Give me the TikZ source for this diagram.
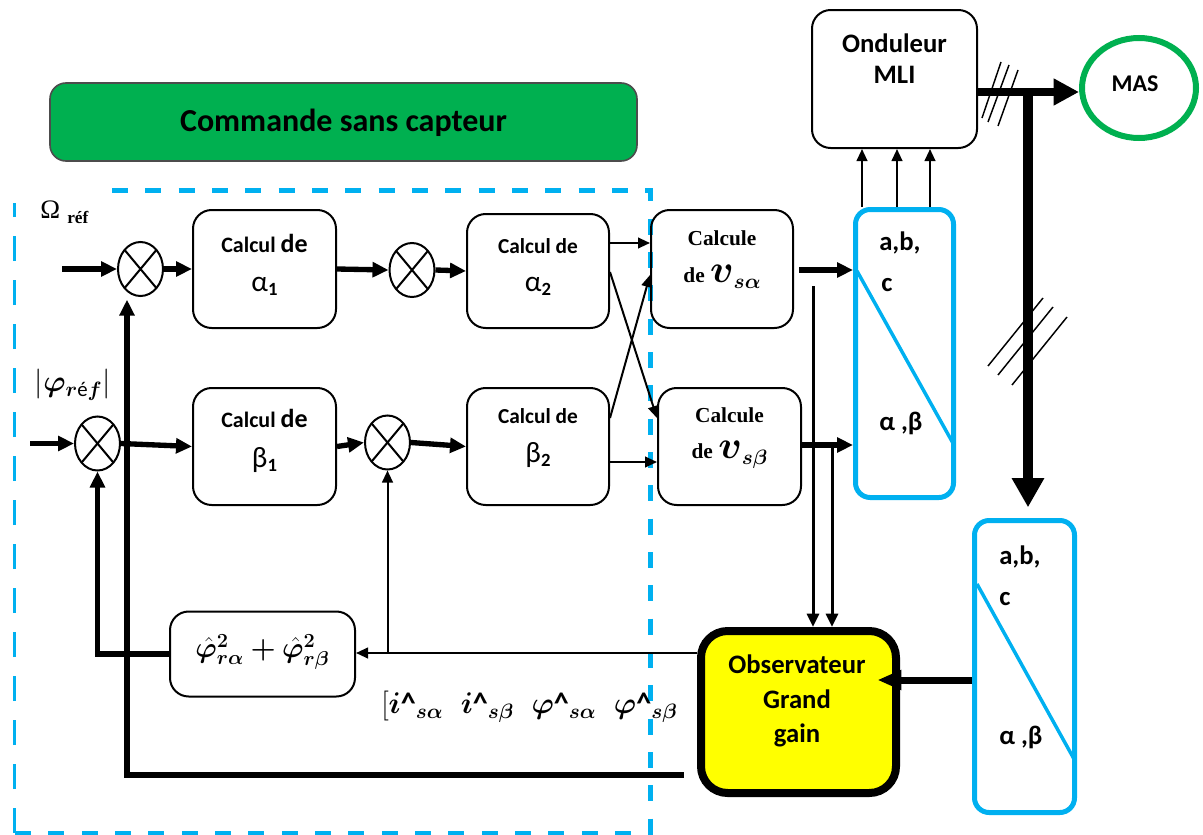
\documentclass[tikz,border=0pt]{standalone}
\usepackage{amsmath}
\usepackage{bm}
\usepackage{graphicx}
\usepackage{fontspec}
\setmainfont{Carlito}
\newfontfamily\tms{Liberation Serif}
\usetikzlibrary{arrows.meta,shapes.geometric}
\definecolor{cyanb}{HTML}{00B0F0}
\definecolor{greenb}{HTML}{00B050}
\definecolor{yelb}{HTML}{FFFF00}
% text helpers
\newcommand\cdbig{{\bfseries\fontsize{16.5}{18}\selectfont Calcul }{\bfseries\fontsize{19.5}{20}\selectfont de}}
\newcommand\cdsmall{{\bfseries\fontsize{16}{18}\selectfont Calcul de}}
\newcommand\grsub[2]{{\fontsize{22}{24}\selectfont #1}\raisebox{-3pt}{\bfseries\fontsize{14}{16}\selectfont #2}}
\newcommand\hatsub[2]{$\bm{#1}$\textbf{\textasciicircum}$_{\bm{#2}}$}
\newcommand\fluxsum{$\bm{\hat{\varphi}}^{\bm{2}}_{\bm{r\alpha}}\bm{+}\bm{\hat{\varphi}}^{\bm{2}}_{\bm{r\beta}}$}
\newcommand\voltlbl[1]{{\tms\bfseries\fontsize{16}{18}\selectfont de }{\fontsize{17.28}{20}\selectfont\scalebox{1.7}{$\bm{v}$}\raisebox{-5pt}{\scalebox{1.3}{$\scriptstyle\bm{s#1}$}}}}
\begin{document}
\begin{tikzpicture}[x=0.75pt,y=-0.75pt,
  box/.style={draw, line width=1.5pt, rounded corners=14pt, inner sep=0pt},
  sumx/.style={ellipse, draw, line width=1.5pt, minimum width=33.75pt, minimum height=40.5pt, inner sep=0pt,
    path picture={\draw[line width=1.5pt]
      (path picture bounding box.north west) -- (path picture bounding box.south east)
      (path picture bounding box.north east) -- (path picture bounding box.south west);}},
  txt/.style={inner sep=0pt, anchor=base},
  txtl/.style={inner sep=0pt, anchor=base west},
  thk/.style={line width=4pt, -{Triangle[length=12pt,width=11pt]}},
  thn/.style={line width=1.5pt, -{Triangle[length=9pt,width=8pt]}},
  abcbox/.style={draw=cyanb, line width=3.75pt, rounded corners=11pt, inner sep=0pt},
  hash/.style={line width=1.1pt},
  abctxt/.style={inner sep=0pt, anchor=base west, font=\bfseries\fontsize{20}{22}\selectfont},
]
\useasboundingbox (0,0) rectangle (1203,835);

% title banner
\node[draw=black!70, fill=greenb, line width=1.2pt, rounded corners=12pt,
      minimum width=440.25pt, minimum height=58.5pt] (title) at (343.5,122) {};
\node[txt, font=\bfseries\fontsize{24}{28}\selectfont] (titletxt) at (343.5,131) {Commande sans capteur};

% sensorless control frame
\draw[cyanb, line width=3.75pt, dash pattern=on 12pt off 13pt] (112,190) -- (650,190) -- (650,833) -- (14,833);
\draw[cyanb, line width=2.25pt, dash pattern=on 18.75pt off 14.25pt] (14,833) -- (14,203);

% summing junctions
\node[sumx] (s1) at (140.5,269) {};
\node[sumx] (s2) at (412,270) {};
\node[sumx] (s3) at (97.5,443.5) {};
\node[sumx] (s4) at (387.5,442.5) {};

% computation blocks
\node[box, minimum width=107.25pt, minimum height=88.5pt] (a1) at (264.5,269) {};
\node[box, minimum width=106.5pt, minimum height=85.5pt] (a2) at (538,271) {};
\node[box, minimum width=106.5pt, minimum height=88.5pt] (va) at (722,269) {};
\node[box, minimum width=107.25pt, minimum height=87.75pt] (b1) at (264.5,446.5) {};
\node[box, minimum width=106.5pt, minimum height=87.75pt] (b2) at (538,446.5) {};
\node[box, minimum width=107.25pt, minimum height=87.75pt] (vb) at (729.5,446.5) {};
\node[box, minimum width=138.75pt, minimum height=63.75pt] (phi) at (262.5,654) {};
\node[box, minimum width=123.75pt, minimum height=103.5pt] (ond) at (894.5,79) {};
\node[draw, fill=yelb, line width=6pt, rounded corners=20pt, inner sep=0pt,
      minimum width=146.25pt, minimum height=121.5pt] (obs) at (798.5,712) {};
\node[ellipse, draw=greenb, line width=4.5pt, minimum width=85.5pt, minimum height=75pt, inner sep=0pt] (mas) at (1139,88) {};

% abc / alpha-beta transforms
\node[abcbox, minimum width=73.5pt, minimum height=216pt] (t1) at (904.5,353.5) {};
\draw[cyanb, line width=2.6pt] (857,271) -- (954,445);
\node[abcbox, minimum width=75pt, minimum height=219pt] (t2) at (1024.5,666.5) {};
\draw[cyanb, line width=2.6pt] (977,584) -- (1074,759);

% block texts
\node[txt] (a1l1) at (264.5,252) {\cdbig};
\node[txt] (a1l2) at (264.5,291) {\grsub{α}{1}};
\node[txt] (a2l1) at (538,253) {\cdsmall};
\node[txt] (a2l2) at (538,291) {\grsub{α}{2}};
\node[txt] (b1l1) at (264.5,427) {\cdbig};
\node[txt] (b1l2) at (264.5,467) {\grsub{β}{1}};
\node[txt] (b2l1) at (538,423) {\cdsmall};
\node[txt] (b2l2) at (538,462) {\grsub{β}{2}};
\node[txt, font=\tms\bfseries\fontsize{16}{18}\selectfont] (val1) at (722,245) {Calcule};
\node[txt] (val2) at (722,282) {\voltlbl{\alpha}};
\node[txt, font=\tms\bfseries\fontsize{16}{18}\selectfont] (vbl1) at (729.5,422) {Calcule};
\node[txt] (vbl2) at (729.5,458) {\voltlbl{\beta}};
\node[inner sep=0pt] (phil) at (262.5,652) {\scalebox{1.25}{\fontsize{17.28}{20}\selectfont\fluxsum}};
\node[txt, font=\bfseries\fontsize{20}{22}\selectfont] (ondl1) at (894.5,52) {Onduleur};
\node[txt, font=\bfseries\fontsize{20}{22}\selectfont] (ondl2) at (894.5,83) {MLI};
\node[txt, font=\bfseries\fontsize{18}{20}\selectfont] (masl) at (1135,91) {MAS};
\node[txt, font=\bfseries\fontsize{20}{22}\selectfont] (obsl1) at (797,673) {Observateur};
\node[txt, font=\bfseries\fontsize{20}{22}\selectfont] (obsl2) at (797,708) {Grand};
\node[txt, font=\bfseries\fontsize{20}{22}\selectfont] (obsl3) at (797,742) {gain};
\node[abctxt] (t1l1) at (879,250) {a,b,};
\node[abctxt] (t1l2) at (881,291) {c};
\node[abctxt] (t1l3) at (879,430) {α ,β};
\node[abctxt] (t2l1) at (999,564) {a,b,};
\node[abctxt] (t2l2) at (999,605) {c};
\node[abctxt] (t2l3) at (999,744) {α ,β};

% reference inputs
\node[txtl, font=\tms\fontsize{20}{22}\selectfont] (omg) at (40,218) {Ω};
\node[txtl, font=\tms\bfseries\fontsize{13}{15}\selectfont] (omgref) at (67,223) {réf};
\node[inner sep=0pt] (phiref) at (73,385) {\scalebox{1.3}{\fontsize{17.28}{20}\selectfont$\left|\bm{\varphi}_{\bm{r}\text{é}\bm{f}}\right|$}};
\node[inner sep=0pt, anchor=west] (estv) at (381,707)
  {\scalebox{1.3}{\fontsize{17.28}{20}\selectfont$[$\hatsub{i}{s\alpha}\hspace{10pt}\hatsub{i}{s\beta}\hspace{10pt}\hatsub{\varphi}{s\alpha}\hspace{10pt}\hatsub{\varphi}{s\beta}}};

% upper chain
\coordinate (inO) at (62,269);
\draw[thk] (inO) -- (s1.west);
\draw[thk] (s1.east) -- (a1.west);
\draw[thk] (a1.east) -- (s2.west);
\draw[thk] (s2.east) -- (a2.west);
% lower chain
\coordinate (inP) at (30,443.5);
\draw[thk] (inP) -- (s3.west);
\draw[thk] (s3.east) -- (b1.west);
\draw[thk] (b1.east) -- (s4.west);
\draw[thk] (s4.east) -- (b2.west);

% cross coupling to the voltage blocks
\draw[thn] (a2.east |- 0,243) -- (va.west |- 0,243);
\draw[thn] (a2.east |- 0,272) -- (vb.west |- 0,418);
\draw[thn] (b2.east |- 0,418) -- (va.west |- 0,275);
\draw[thn] (b2.east |- 0,462) -- (vb.west |- 0,462);

% voltages to the transform
\draw[thk] ([xshift=4pt]va.east |- 0,270) -- (t1.west |- 0,270);
\draw[thk] (vb.east |- 0,445) -- (t1.west |- 0,445);

% voltages measured by the observer
\coordinate (ta) at (813,286);
\coordinate (tb) at (832,448);
\draw[line width=2.25pt, -{Triangle[length=10pt,width=9pt]}] (ta) -- (ta |- obs.north);
\draw[line width=2.25pt, -{Triangle[length=10pt,width=9pt]}] (tb) -- (tb |- obs.north);

% transform to inverter
\foreach \xx/\nm in {862/p, 897/q, 930/r}{
  \coordinate (u\nm) at (\xx,0);
  \draw[thn] (t1.north -| u\nm) -- (ond.south -| u\nm);
}

% inverter to machine
\draw[line width=6pt, -{Triangle[length=19pt,width=19pt]}] (ond.east |- 0,92) -- (mas.west |- 0,92);
\draw[hash] (1001,62) -- (982,118) (1009,65) -- (988,122) (1018,70) -- (998,126);
\coordinate (jn) at (1028,88);
\draw[line width=7.5pt, shorten >=8pt, -{Triangle[length=22pt,width=23pt]}] (jn) -- (jn |- t2.north);
\draw[hash] (988,366) -- (1043,298) (998,375) -- (1053,307) (1012,385) -- (1067,317);

% measured currents into the observer
\draw[line width=5.25pt, shorten >=-17pt, -{Triangle[length=18pt,width=14pt]}] (t2.west |- 0,680) -- (obs.east |- 0,680);

% observer feedback
\draw[thn] (obs.west |- 0,653) -- (phi.east |- 0,653);
\coordinate (fb2) at (s4.south |- 0,653);
\draw[thn] (fb2) -- (s4.south);
\draw[thk] (phi.west) -| (s3.south);
\coordinate (fb1) at (127,775);
\draw[thk, shorten >=2pt] ([xshift=-10pt]obs.west |- fb1) -- (fb1) -- (fb1 |- s1.south);
\end{tikzpicture}
\end{document}
